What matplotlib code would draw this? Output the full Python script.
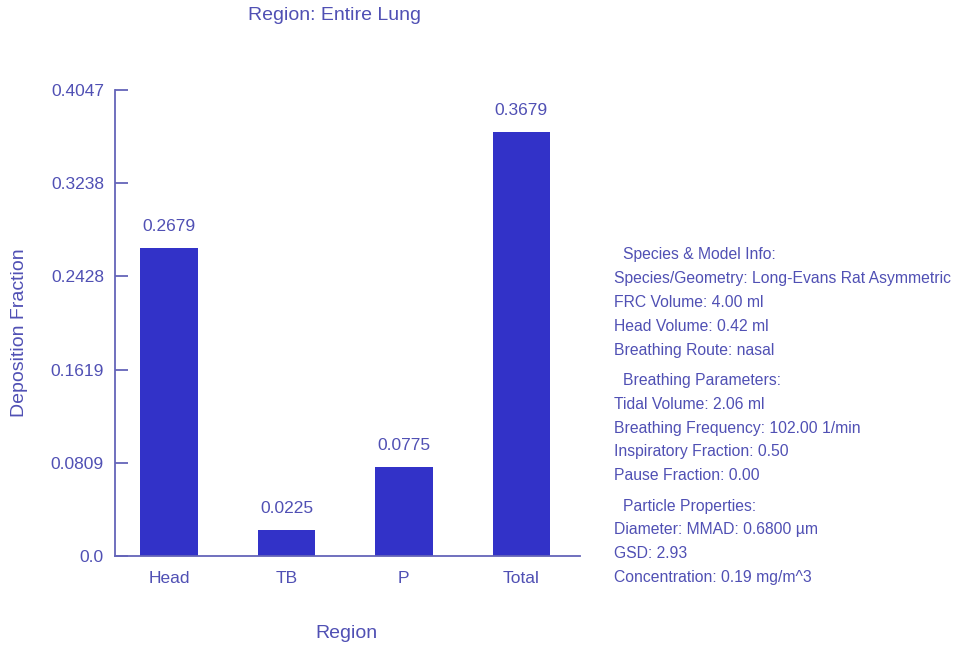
import matplotlib
matplotlib.use("Agg")
import matplotlib.pyplot as plt

plt.rcParams['font.family'] = ['Liberation Sans', 'DejaVu Sans']

categories = ["Head", "TB", "P", "Total"]
values = [0.2679, 0.0225, 0.0775, 0.3679]
y_ticks = [0.0, 0.0809, 0.1619, 0.2428, 0.3238, 0.4047]
y_tick_labels = ["0.0", "0.0809", "0.1619", "0.2428", "0.3238", "0.4047"]

info_lines = [
    ("Species & Model Info:", True),
    ("Species/Geometry: Long-Evans Rat Asymmetric", False),
    ("FRC Volume: 4.00 ml", False),
    ("Head Volume: 0.42 ml", False),
    ("Breathing Route: nasal", False),
    ("Breathing Parameters:", True),
    ("Tidal Volume: 2.06 ml", False),
    ("Breathing Frequency: 102.00 1/min", False),
    ("Inspiratory Fraction: 0.50", False),
    ("Pause Fraction: 0.00", False),
    ("Particle Properties:", True),
    ("Diameter: MMAD: 0.6800 \u00b5m", False),
    ("GSD: 2.93", False),
    ("Concentration: 0.19 mg/m^3", False),
]

bar_color = "#3232c8"
text_color = "#5050b4"
axis_color = "#6464b9"

W, H = 955, 647
fig = plt.figure(figsize=(W / 100, H / 100), dpi=100)
ax = fig.add_axes([115 / W, (H - 556) / H, 465 / W, 466 / H])

x = list(range(len(categories)))
bars = ax.bar(x, values, width=0.49, color=bar_color)
for xi, v in zip(x, values):
    ax.annotate(f"{v:.4f}", (xi, v), xytext=(0, 10), textcoords="offset points",
                ha="center", va="bottom", fontsize=12.5, color=text_color)

ax.set_xlim(-0.46, 3.5)
ax.set_ylim(0, 0.4047)
ax.set_yticks(y_ticks)
ax.set_yticklabels(y_tick_labels)
ax.set_xticks(x)
ax.set_xticklabels(categories)

for s in ("top", "right"):
    ax.spines[s].set_visible(False)
for s in ("left", "bottom"):
    ax.spines[s].set_color(axis_color)
    ax.spines[s].set_linewidth(1.3)

ax.tick_params(axis="y", direction="in", length=9, width=1.3, color=axis_color,
               labelcolor=text_color, labelsize=12.5, pad=8)
ax.tick_params(axis="x", length=0, labelcolor=text_color, labelsize=12.5, pad=11)

fig.text(20 / W, 1 - 333 / H, "Deposition Fraction", rotation=90, ha="center",
         va="center", fontsize=14, color=text_color)
fig.text(346 / W, 1 - 633 / H, "Region", ha="center", va="center",
         fontsize=14, color=text_color)
fig.text(335 / W, 1 - 16 / H, "Region: Entire Lung", ha="center", va="center",
         fontsize=14, color=text_color)

# parameter panel on the right
y = 255
for i, (line, header) in enumerate(info_lines):
    if header and i > 0:
        y += 6.5
    fig.text((623 if header else 614) / W, 1 - y / H, line, ha="left", va="center",
             fontsize=11.3, color=text_color)
    y += 23.8

fig.savefig("out.png", dpi=100)
